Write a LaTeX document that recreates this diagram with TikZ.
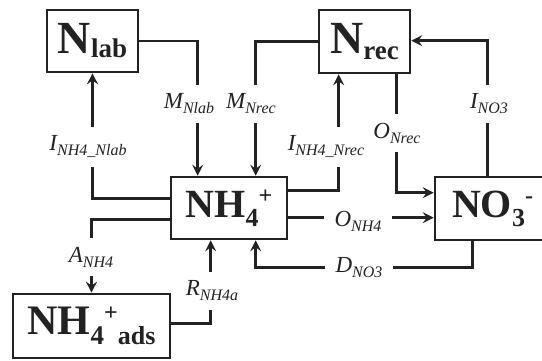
\documentclass[tikz,border=0pt]{standalone}
\usepackage{fontspec}
\setmainfont{Liberation Serif}
\usetikzlibrary{arrows.meta,calc}
\newcommand{\BSub}[3][-9pt]{\raisebox{#1}{\fontsize{#2}{#2}\selectfont #3}}
\newcommand{\BSup}[1]{\raisebox{14pt}{\fontsize{24}{24}\selectfont #1}}
\newcommand{\flab}[2]{#1\raisebox{-5pt}{\fontsize{16}{16}\selectfont #2}}
\definecolor{ink}{HTML}{222222}
\begin{document}
\begin{tikzpicture}[x=1pt,y=-1pt,
  box/.style={draw=ink, line width=2.6pt, inner sep=0pt, text=ink,
    font=\fontsize{40}{40}\selectfont\bfseries},
  flow/.style={draw=ink, line width=2.6pt, -{Stealth[length=11pt,width=11pt,inset=4pt]}},
  lab/.style={fill=white, inner xsep=3pt, inner ysep=9pt, text=ink,
    font=\fontsize{23}{23}\selectfont\itshape},
  hlab/.style={lab, inner xsep=11pt, inner ysep=4pt}]
\useasboundingbox (0,0) rectangle (542,361);
% boxes
\node[box, minimum width=91pt, minimum height=62pt, font=\fontsize{46}{46}\selectfont\bfseries] (nlab) at (92.5,41) {N\BSub[-4pt]{27}{lab}};
\node[box, minimum width=91pt, minimum height=63pt, font=\fontsize{46}{46}\selectfont\bfseries] (nrec) at (364.5,41.5) {N\BSub[-6pt]{27}{rec}};
\node[box, minimum width=116pt, minimum height=62pt] (nh4) at (229,208) {NH\BSub{26}{4}\BSup{+}};
\node[box, minimum width=115pt, minimum height=63pt] (no3) at (492.5,208.5) {NO\BSub{26}{3}\BSup{-}};
\node[box, minimum width=157pt, minimum height=64pt, font=\fontsize{42}{42}\selectfont\bfseries] (ads) at (91.5,326) {NH\BSub[-10pt]{27}{4}\BSup{+}\BSub[-10pt]{26}{ads}};
% connectors
\draw[flow] (nlab.east) -| ($(nh4.north west)+(28,0)$);
\draw[flow] (nrec.west) -| ($(nh4.north west)+(86,0)$);
\draw[flow] ($(nh4.north west)+(0,23)$) -| (nlab.south);
\draw[flow] ($(nh4.north west)+(0,44)$) -| (ads.north);
\draw[flow] ($(ads.north east)+(0,31)$) -| ($(nh4.south west)+(41,0)$);
\draw[flow] ($(nh4.north east)+(0,15)$) -| ($(nrec.south west)+(21,0)$);
\draw[flow] ($(nrec.south west)+(79,0)$) |- ($(no3.north west)+(0,17)$);
\draw[flow] ($(no3.north west)+(54,0)$) |- ($(nrec.north east)+(0,32)$);
\draw[flow] ($(nh4.north east)+(0,42)$) -- ($(no3.north west)+(0,42)$);
\draw[flow] ($(no3.south west)+(39,0)$) |- ($(nh4.south west)+(86,27)$) -- ($(nh4.south west)+(86,0)$);
% labels
\node[lab] (lMNlab) at (189,104) {\flab{M}{Nlab}};
\node[lab] (lMNrec) at (251,104) {\flab{M}{Nrec}};
\node[lab] (lINlab) at (88,147) {\flab{I}{NH4\_Nlab}};
\node[lab] (lANH4) at (91,257) {\flab{A}{NH4}};
\node[lab] (lRNH4a) at (212,291) {\flab{R}{NH4a}};
\node[lab] (lINrec) at (326,147) {\flab{I}{NH4\_Nrec}};
\node[lab] (lONrec) at (397,133) {\flab{O}{Nrec}};
\node[lab] (lINO3) at (489,104) {\flab{I}{NO3}};
\node[hlab] (lONH4) at (358,221) {\flab{O}{NH4}};
\node[hlab] (lDNO3) at (359,268) {\flab{D}{NO3}};
\end{tikzpicture}
\end{document}
